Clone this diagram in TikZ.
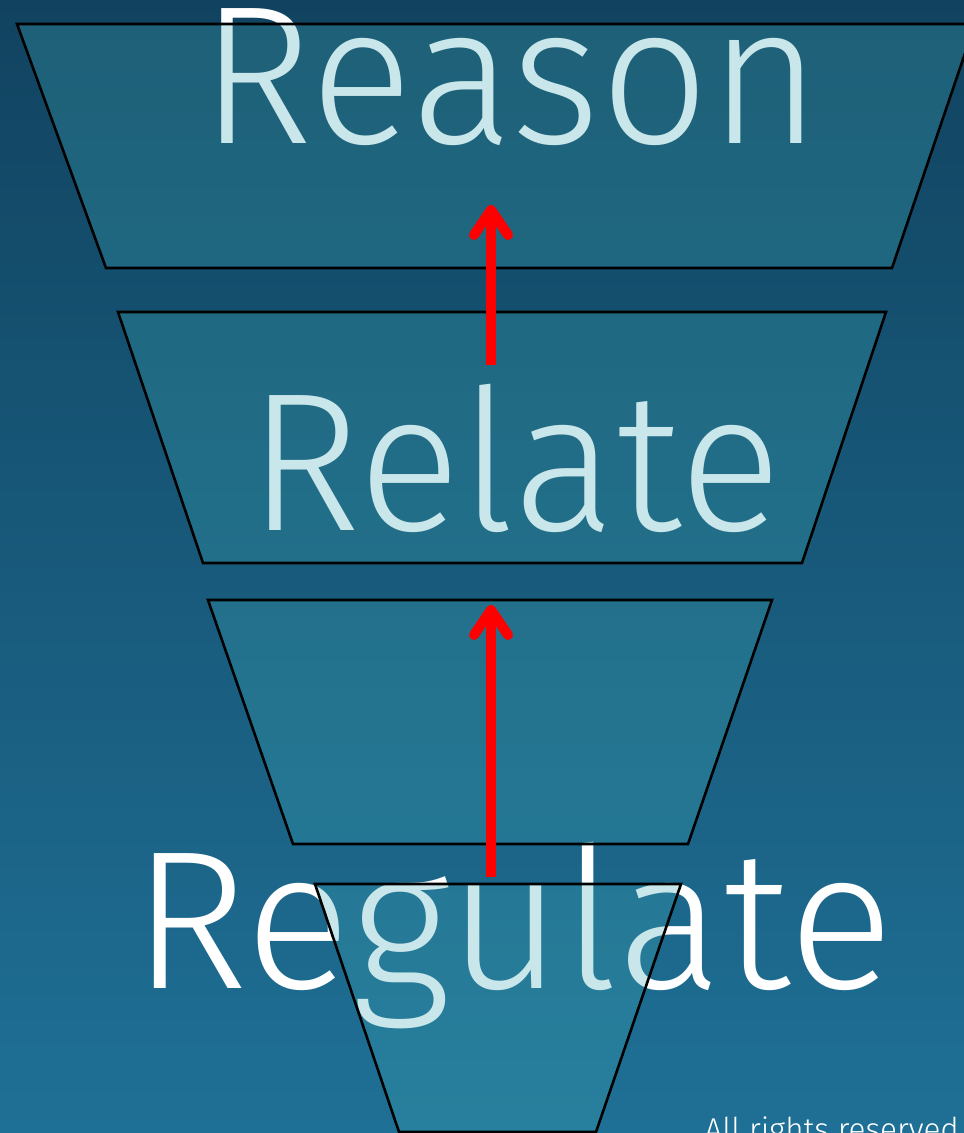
\documentclass[tikz,border=0pt]{standalone}
\usepackage{fontspec}
\setmainfont{Fira Sans Light}
\usetikzlibrary{arrows.meta}
\definecolor{bgtop}{HTML}{114360}
\definecolor{bgbot}{HTML}{1F7096}
\definecolor{trapfill}{HTML}{3EAAB4}
\definecolor{arrowred}{HTML}{FF0000}
\tikzset{
  trap/.style={draw=black, line width=2.6pt, fill=trapfill, fill opacity=0.28, line join=miter},
  bigword/.style={text=white, inner sep=0pt, anchor=base, font=\fontsize{197}{200}\selectfont},
  uparrow/.style={draw=arrowred, line width=10pt, -{Straight Barb[length=25pt,width=34pt,round]}},
  note/.style={text=white, inner sep=0pt, anchor=base east, font=\fontsize{31.5}{33}\selectfont}
}
\begin{document}
\begin{tikzpicture}[x=1pt,y=-1pt]
\useasboundingbox (0,0) rectangle (964,1133);
\shade[top color=bgtop, bottom color=bgbot] (0,0) rectangle (964,1133);
% words (behind the trapezoids)
\node[bigword] (reason) at (511,143) {\scalebox{0.97}[1]{Reason}};
\node[bigword] (relate) at (515,530) {\scalebox{0.97}[1]{Relate}};
\node[bigword] (regulate) at (513,988) {Regulate};
% trapezoids
\draw[trap] (17,24) -- (975,24) -- (892,268) -- (106,268) -- cycle;
\draw[trap] (118,312) -- (886,312) -- (802,563) -- (203,563) -- cycle;
\draw[trap] (208,600) -- (772,600) -- (688,844) -- (293,844) -- cycle;
\draw[trap] (315,884) -- (681,884) -- (596,1132) -- (399,1132) -- cycle;
% arrows
\coordinate (a1s) at (491,365);
\coordinate (a1e) at (491,205);
\coordinate (a2s) at (491,877);
\coordinate (a2e) at (491,605);
\draw[uparrow] (a1s) -- (a1e);
\draw[uparrow] (a2s) -- (a2e);
\node[note] (rights) at (959,1140) {All rights reserved};
\end{tikzpicture}
\end{document}
